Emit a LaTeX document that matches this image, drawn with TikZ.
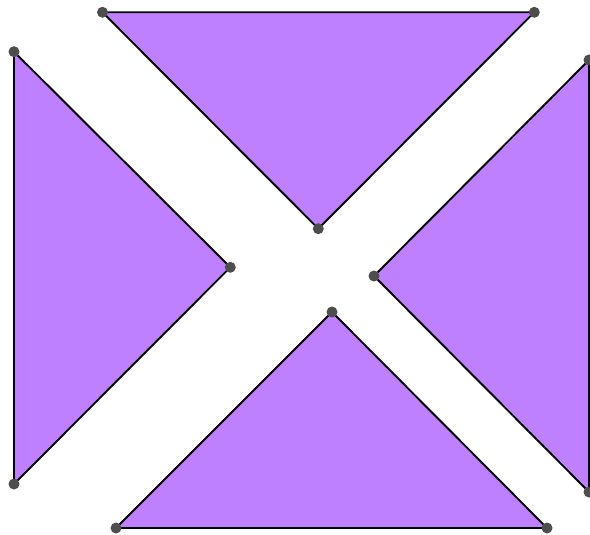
\documentclass[tikz,border=0pt]{standalone}
\begin{document}
\begin{tikzpicture}[x=1pt,y=-1pt,
  tri/.style={fill={rgb,255:red,191;green,128;blue,255},draw=black,line width=1.9pt,line join=miter},
  pt/.style={circle,fill={rgb,255:red,77;green,77;blue,77},inner sep=0pt,minimum size=11pt}]
\useasboundingbox (0,0) rectangle (590,535);
\begin{scope}
\clip (0,0) rectangle (590,535);
\coordinate (A1) at (102.5,12.3);
\coordinate (A2) at (534.3,12.3);
\coordinate (A3) at (318.3,228.7);
\coordinate (B1) at (14,51.7);
\coordinate (B2) at (14,484);
\coordinate (B3) at (230.3,267.3);
\coordinate (C1) at (589,60);
\coordinate (C2) at (589,492);
\coordinate (C3) at (374,276);
\coordinate (D1) at (116,528);
\coordinate (D2) at (547,528);
\coordinate (D3) at (332,312);
\draw[tri] (A1) -- (A2) -- (A3) -- cycle;
\draw[tri] (B1) -- (B2) -- (B3) -- cycle;
\draw[tri] (C1) -- (C2) -- (C3) -- cycle;
\draw[tri] (D1) -- (D2) -- (D3) -- cycle;
\foreach \p in {A1,A2,A3,B1,B2,B3,C1,C2,C3,D1,D2,D3}
  \node[pt] at (\p) {};
\end{scope}
\end{tikzpicture}
\end{document}
